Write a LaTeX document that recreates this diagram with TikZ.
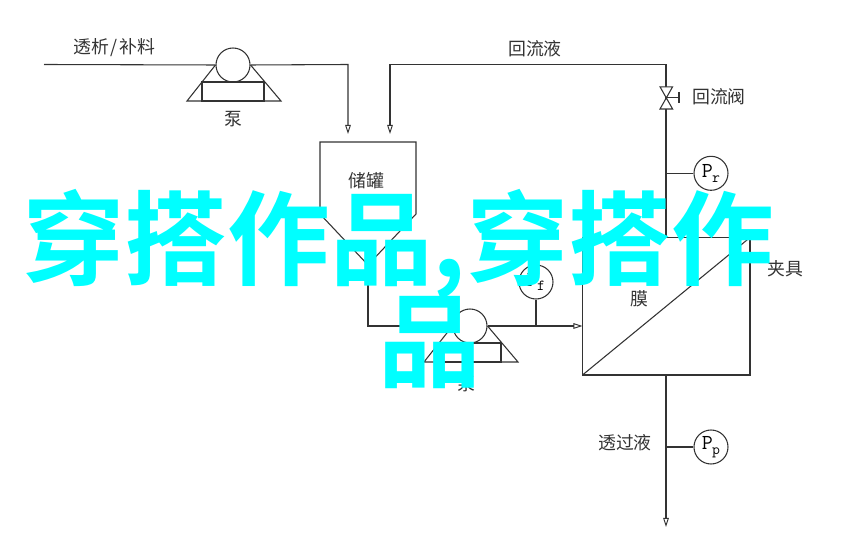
\documentclass[tikz,border=0pt]{standalone}
\usepackage{fontspec}
\setmainfont{Noto Sans CJK SC}
\newfontfamily\wmfont[BoldFont=*]{Noto Sans CJK SC Bold}
\usetikzlibrary{arrows.meta,calc}
\definecolor{ln}{HTML}{333333}
\definecolor{wm}{HTML}{00FFFF}
\tikzset{
  pipe/.style={draw=ln,line width=0.8pt},
  flow/.style={pipe,-{Triangle[open,length=6.8pt,width=4.2pt,line width=0.7pt]}},
  gauge/.style={circle,draw=ln,line width=0.8pt,minimum size=25.5pt,inner sep=0pt,fill=white,font=\ttfamily\fontsize{16pt}{16pt}\selectfont},
  lbl/.style={inner sep=0pt,text=ln,font=\fontsize{13.4pt}{14pt}\selectfont},
  watermark/.style={inner sep=0pt,text=wm,font=\wmfont\fontsize{77pt}{77pt}\selectfont}
}
\newcommand{\gaugetxt}[1]{P\kern-0.5pt\raisebox{-3.6pt}{\fontsize{11.5pt}{11.5pt}\selectfont #1}}
\begin{document}
\begin{tikzpicture}[x=0.75pt,y=-0.75pt]
\useasboundingbox (0,0) rectangle (858,555);
% coordinates
\coordinate (feed) at (44,64.5);
\coordinate (tankL) at (348,64.5);
\coordinate (tankLin) at (348,134);
\coordinate (retIn) at (390,134);
\coordinate (retTL) at (390,64.5);
\coordinate (retTR) at (666,64.5);
\coordinate (memTop) at (666,237.5);
\coordinate (tankOut) at (368,265);
\coordinate (bend) at (368,326);
\coordinate (memIn) at (582.5,326);
\coordinate (memBot) at (666,375);
\coordinate (permEnd) at (666,527);
\coordinate (valve) at (666,97.7);
% pump 1
\node[gauge] (p1) at (233,65) {};
\draw[pipe] (p1.west) -- (187,101) -- (281,101) -- (p1.east);
\draw[pipe] (202,82) rectangle (264,101);
\node[lbl] (p1l) at (233,119) {泵};
% pump 2
\node[gauge] (p2) at (470,326) {};
\draw[pipe] (p2.west) -- (424,362) -- (518,362) -- (p2.east);
\draw[pipe] (439,343) rectangle (501,362);
\node[lbl] (p2l) at (466,384) {泵};
% pipes
\draw[pipe] (feed) -- (p1.west);
\draw[flow] (p1.east) -- (tankL) -- (tankLin);
\draw[flow] (retTR) -- (retTL) -- (retIn);
\draw[pipe] (retTR) -- (memTop);
\draw[pipe] (tankOut) -- (bend) -- (p2.west);
\draw[flow] (p2.east) -- (memIn);
\draw[flow] (memBot) -- (permEnd);
% tank
\draw[pipe] (tankOut) -- (320,214) -- (320,142) -- (416,142) -- (416,214) -- cycle;
\node[lbl] (tankl) at (366,181) {储罐};
% valve
\draw[pipe,fill=white] (660,86.8) -- (672.6,86.8) -- (660,109) -- (672.6,109) -- cycle;
\draw[pipe] (valve) -- (679,97.7) (679,92) -- (679,103.4);
\node[lbl] (valvel) at (719,97) {回流阀};
% gauges
\node[gauge] (pr) at (711,173.3) {\gaugetxt{r}};
\coordinate (prj) at (666,173.3);
\draw[pipe] (prj) -- (pr);
\node[gauge] (pf) at (536,282) {\gaugetxt{f}};
\coordinate (pfj) at (536,326);
\draw[pipe] (pfj) -- (pf);
\node[gauge] (pp) at (711,447) {\gaugetxt{p}};
\coordinate (ppj) at (666,447);
\draw[pipe] (ppj) -- (pp);
% membrane
\draw[pipe] (582.5,237.5) rectangle (750,375);
\draw[pipe] (582.5,375) -- (750,237.5);
\node[lbl] (memb) at (639,299) {膜};
\node[lbl] (clamp) at (785,269) {夹具};
% labels
\node[lbl] (feedl) at (114.5,48) {透析\kern1.5pt/\kern1.5pt补料};
\node[lbl] (retl) at (535,49) {回流液};
\node[lbl] (perm) at (625,443) {透过液};
% watermark
\node[watermark,anchor=west] (wm1) at (22,244) {穿搭作品,穿搭作};
\node[watermark] (wm2) at (430,343) {品};
\end{tikzpicture}
\end{document}
